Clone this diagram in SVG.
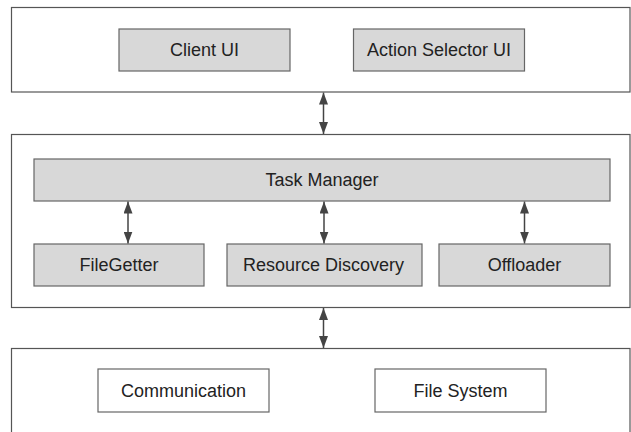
<svg xmlns="http://www.w3.org/2000/svg" width="631" height="432" viewBox="0 0 631 432">
<style>
.layer{fill:#ffffff;stroke:#555555;stroke-width:1.2}
.node{fill:#d8d8d8;stroke:#666666;stroke-width:1.2}
.wnode{fill:#ffffff;stroke:#666666;stroke-width:1.2}
.lbl{font-family:"Liberation Sans",Arial,sans-serif;font-size:18px;fill:#222222;text-anchor:middle;dominant-baseline:central}
.conn{stroke:#444444;stroke-width:1.5;fill:none;marker-start:url(#ah);marker-end:url(#ah)}
</style>
<defs>
<marker id="ah" viewBox="0 0 12 9" refX="12" refY="4.5" markerWidth="12" markerHeight="9" markerUnits="userSpaceOnUse" orient="auto-start-reverse">
<path d="M0,0 L12,4.5 L0,9 z" fill="#444444"/>
</marker>
</defs>
<rect x="0" y="0" width="631" height="432" fill="#ffffff"/>
<g id="layer-top">
<rect class="layer" x="11.5" y="7.5" width="618.5" height="84.5"/>
</g>
<g id="layer-middle">
<rect class="layer" x="11.5" y="134.5" width="618.5" height="173"/>
</g>
<g id="layer-bottom">
<rect class="layer" x="11.5" y="348.5" width="618.5" height="95"/>
</g>
<g id="client-ui">
<rect class="node" x="119" y="29" width="171" height="42"/>
<text class="lbl" x="204.5" y="50">Client UI</text>
</g>
<g id="action-selector-ui">
<rect class="node" x="353.5" y="29" width="171" height="42"/>
<text class="lbl" x="439" y="50">Action Selector UI</text>
</g>
<g id="task-manager">
<rect class="node" x="34" y="159" width="576" height="42"/>
<text class="lbl" x="322" y="180">Task Manager</text>
</g>
<g id="filegetter">
<rect class="node" x="34" y="244" width="170" height="42"/>
<text class="lbl" x="119" y="265">FileGetter</text>
</g>
<g id="resource-discovery">
<rect class="node" x="227" y="244" width="195" height="42"/>
<text class="lbl" x="323.5" y="265">Resource Discovery</text>
</g>
<g id="offloader">
<rect class="node" x="439" y="244" width="171" height="42"/>
<text class="lbl" x="524.5" y="265">Offloader</text>
</g>
<g id="communication">
<rect class="wnode" x="98" y="369" width="171" height="43"/>
<text class="lbl" x="183.5" y="390.5">Communication</text>
</g>
<g id="file-system">
<rect class="wnode" x="375" y="369" width="171" height="43"/>
<text class="lbl" x="460.5" y="390.5">File System</text>
</g>
<g id="connectors">
<line class="conn" x1="323.5" y1="92.5" x2="323.5" y2="134"/>
<line class="conn" x1="128" y1="201.5" x2="128" y2="243.5"/>
<line class="conn" x1="324" y1="201.5" x2="324" y2="243.5"/>
<line class="conn" x1="524.5" y1="201.5" x2="524.5" y2="243.5"/>
<line class="conn" x1="323.5" y1="308" x2="323.5" y2="348"/>
</g>
</svg>
